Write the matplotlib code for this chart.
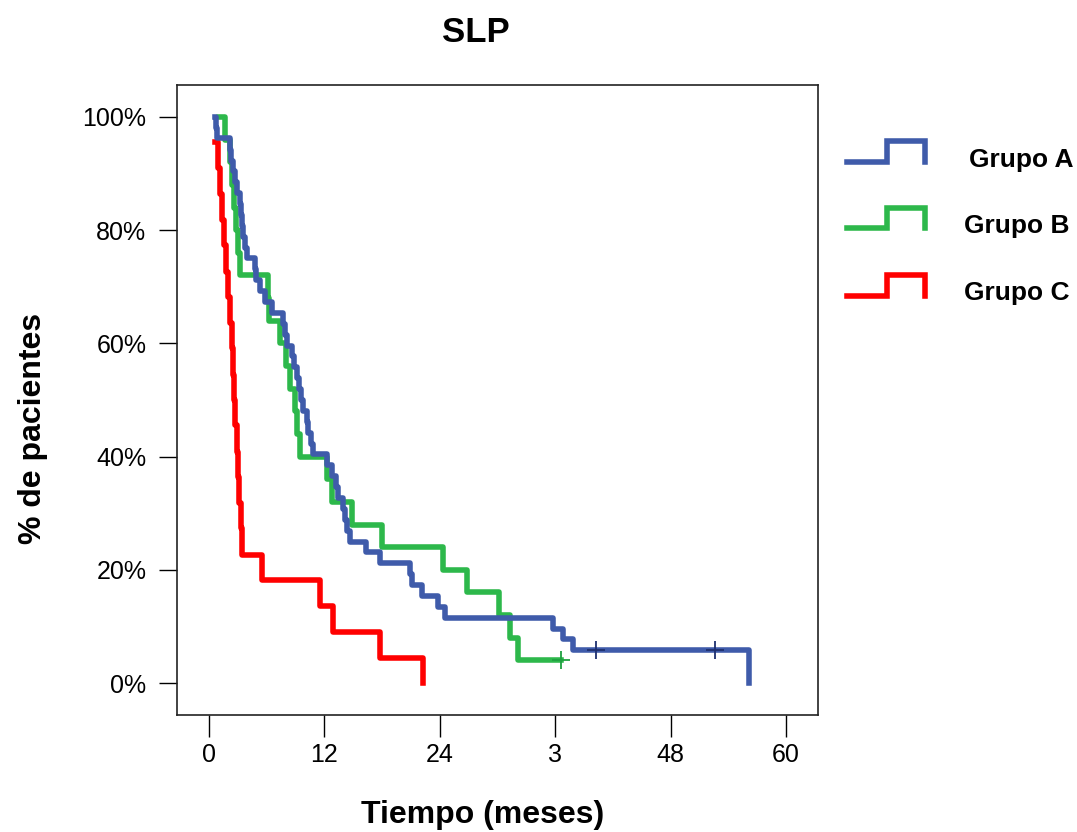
import matplotlib
matplotlib.use("Agg")
import matplotlib.pyplot as plt
from matplotlib.lines import Line2D

plt.rcParams['font.family'] = ['Liberation Sans', 'DejaVu Sans']

# Kaplan-Meier curves (time in months, survival in %)
grupo_a_t = [0.6, 0.7, 0.8, 2.2, 2.3, 2.5, 2.7, 2.9, 3.2, 3.3, 3.4, 3.5, 3.7, 3.9,
             4.8, 4.9, 5.3, 5.8, 6.5, 7.7, 7.9, 8.1, 8.6, 8.8, 9.1, 9.4, 9.6, 9.8,
             10.2, 10.3, 10.6, 10.8, 12.3, 12.8, 13.2, 13.4, 13.9, 14.1, 14.4, 14.7,
             16.3, 17.8, 20.9, 21.1, 22.1, 23.8, 24.5, 35.8, 36.8, 37.8, 56.2]
grupo_a_s = [100, 98.1, 96.2, 94.2, 92.3, 90.4, 88.5, 86.5, 84.6, 82.7, 80.8, 78.8,
             76.9, 75.0, 73.1, 71.2, 69.2, 67.3, 65.4, 63.5, 61.5, 59.6, 57.7, 55.8,
             53.8, 51.9, 50.0, 48.1, 46.2, 44.2, 42.3, 40.4, 38.5, 36.5, 34.6, 32.7,
             30.8, 28.8, 26.9, 25.0, 23.1, 21.2, 19.2, 17.3, 15.4, 13.5, 11.5, 9.6,
             7.7, 5.8, 0]
grupo_a_cens_t = [40.2, 52.6]
grupo_a_cens_s = [5.8, 5.8]

grupo_b_t = [1.0, 1.7, 2.2, 2.4, 2.6, 2.8, 3.0, 3.2, 6.1, 6.2, 7.4, 8.0, 8.4, 8.9,
             9.1, 9.5, 12.3, 12.8, 14.9, 18.0, 24.3, 26.8, 30.2, 31.3, 32.1, 36.6]
grupo_b_s = [100, 96, 92, 88, 84, 80, 76, 72, 68, 64, 60, 56, 52, 48, 44, 40, 36,
             32, 28, 24, 20, 16, 12, 8, 4, 4]
grupo_b_cens_t = [36.6]
grupo_b_cens_s = [4]

grupo_c_t = [0.6, 0.9, 1.1, 1.35, 1.55, 1.75, 2.0, 2.2, 2.4, 2.5, 2.55, 2.7, 2.9,
             3.0, 3.1, 3.3, 3.4, 5.5, 11.5, 12.9, 17.8, 22.3]
grupo_c_s = [95.5, 90.9, 86.4, 81.8, 77.3, 72.7, 68.2, 63.6, 59.1, 54.5, 50.0, 45.5,
             40.9, 36.4, 31.8, 27.3, 22.7, 18.2, 13.6, 9.1, 4.5, 0]

x_ticks = [0, 12, 24, 36, 48, 60]
x_ticklabels = ['0', '12', '24', '3', '48', '60']
y_ticks = [0, 20, 40, 60, 80, 100]
y_ticklabels = ['0%', '20%', '40%', '60%', '80%', '100%']

grupos = ['Grupo A', 'Grupo B', 'Grupo C']
colores = ['#3F5BAA', '#2DB84B', '#FF0000']

W, H = 1077, 832
fig = plt.figure(figsize=(W / 100, H / 100), dpi=100)
ax = fig.add_axes([177 / W, 1 - 715 / H, (818 - 177) / W, (715 - 85) / H])

lw = 4.0
ax.step(grupo_a_t, grupo_a_s, where='post', color=colores[0], lw=lw, zorder=3)
ax.step(grupo_b_t, grupo_b_s, where='post', color=colores[1], lw=lw, zorder=2)
ax.step(grupo_c_t, grupo_c_s, where='post', color=colores[2], lw=lw, zorder=2)
ax.plot(grupo_a_cens_t, grupo_a_cens_s, '+', color='#1E2F6E', ms=13, mew=1.3, zorder=4)
ax.plot(grupo_b_cens_t, grupo_b_cens_s, '+', color='#1FA040', ms=13, mew=1.3, zorder=4)

ax.set_xlim(-3.33, 63.33)
ax.set_ylim(-5.65, 105.65)
ax.set_xticks(x_ticks)
ax.set_xticklabels(x_ticklabels)
ax.set_yticks(y_ticks)
ax.set_yticklabels(y_ticklabels)
ax.tick_params(axis='x', length=16, width=1.0, pad=4, labelsize=18)
ax.tick_params(axis='y', length=13, width=1.0, pad=9, labelsize=18)
for s in ax.spines.values():
    s.set_linewidth(1.2)
    s.set_color('#222222')

fig.text(476 / W, 1 - 32 / H, 'SLP', fontsize=25, fontweight='bold',
         ha='center', va='center')
fig.text(483 / W, 1 - 815 / H, 'Tiempo (meses)', fontsize=23, fontweight='bold',
         ha='center', va='center')
fig.text(33 / W, 1 - 428 / H, '% de pacientes', fontsize=23, fontweight='bold',
         ha='center', va='center', rotation=90)

# legend drawn by hand with step-shaped icons
iconos = [(162, 141), (228, 208), (296, 275)]
texto_x = [969, 964, 964]
texto_y = [160, 226, 293]
for nombre, col, (yb, yt), tx, ty in zip(grupos, colores, iconos, texto_x, texto_y):
    xs = [847, 887, 887, 925, 925]
    ys = [yb, yb, yt, yt, yb]
    fig.add_artist(Line2D([x / W for x in xs], [1 - y / H for y in ys],
                          transform=fig.transFigure, color=col, lw=lw,
                          solid_joinstyle='miter'))
    fig.text(tx / W, 1 - ty / H, nombre, fontsize=19, fontweight='bold',
             ha='left', va='center')

fig.savefig('out.png', dpi=100)
